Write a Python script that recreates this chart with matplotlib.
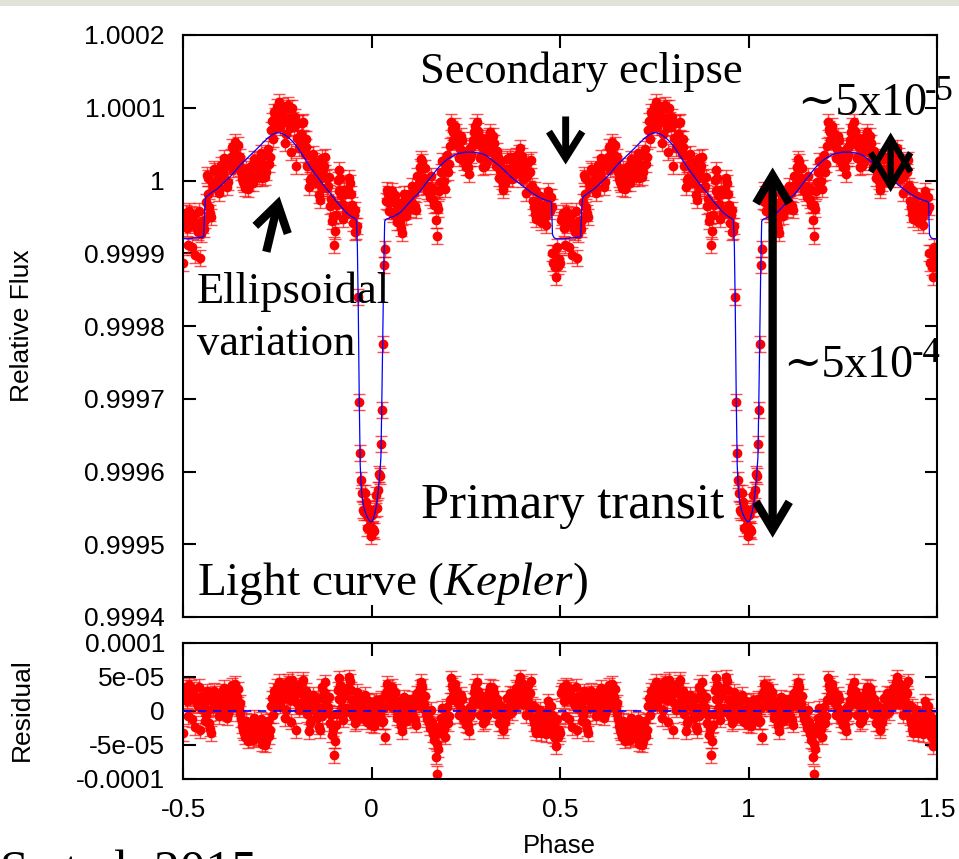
import numpy as np
import matplotlib
matplotlib.use("Agg")
import matplotlib.pyplot as plt
from matplotlib.patches import Rectangle

plt.rcParams['font.family'] = ['Liberation Sans', 'DejaVu Sans']
plt.rcParams['mathtext.fontset'] = 'custom'
plt.rcParams['mathtext.rm'] = 'Liberation Serif'
plt.rcParams['mathtext.it'] = 'Liberation Serif:italic'

# phase bins of one orbital cycle (the plot repeats them over two cycles);
# two interleaved sets of bins, offset by half a bin
phase_a = np.linspace(-0.5, 0.495, 200)
phase_b = phase_a + 0.0025

# best-fit model at the bins, offset from 1 in units of 1e-5
model_a_1e5 = [
    -8.0, -8.0, -8.0, -8.0, -7.95, -7.95, -7.9, -7.9, -7.85, -7.8,
    -7.8, -7.7, -2.3, -2.1, -1.9, -1.7, -1.5, -1.35, -1.2, -0.95,
    -0.7, -0.45, -0.2, 0.05, 0.25, 0.5, 0.8, 1.1, 1.4, 1.7,
    2.0, 2.3, 2.55, 2.8, 3.05, 3.3, 3.55, 3.8, 4.05, 4.3,
    4.55, 4.8, 5.1, 5.35, 5.6, 5.85, 6.05, 6.25, 6.4, 6.5,
    6.55, 6.55, 6.5, 6.4, 6.25, 6.1, 5.9, 5.65, 5.4, 5.1,
    4.8, 4.45, 4.05, 3.65, 3.25, 2.85, 2.45, 2.05, 1.65, 1.3,
    0.95, 0.6, 0.25, -0.1, -0.45, -0.8, -1.1, -1.4, -1.7, -2.05,
    -2.4, -2.75, -3.05, -3.35, -3.65, -3.95, -4.25, -4.5, -4.7, -4.9,
    -5.05, -5.2, -5.4, -18.0, -39.0, -43.5, -45.0, -45.8, -46.4, -46.8,
    -46.9, -46.5, -45.5, -44.0, -41.5, -38.0, -21.0, -5.6, -5.3, -5.2,
    -5.1, -5.0, -4.9, -4.75, -4.6, -4.45, -4.2, -3.95, -3.65, -3.35,
    -3.05, -2.75, -2.45, -2.2, -2.0, -1.7, -1.4, -1.05, -0.7, -0.35,
    0.0, 0.3, 0.6, 0.95, 1.3, 1.6, 1.9, 2.15, 2.4, 2.65,
    2.85, 3.05, 3.2, 3.35, 3.5, 3.6, 3.7, 3.75, 3.8, 3.85,
    3.9, 3.9, 3.9, 3.9, 3.9, 3.85, 3.8, 3.75, 3.7, 3.65,
    3.55, 3.4, 3.2, 3.0, 2.8, 2.6, 2.4, 2.2, 2.0, 1.75,
    1.5, 1.25, 1.0, 0.75, 0.5, 0.25, 0.05, -0.1, -0.3, -0.5,
    -0.7, -0.9, -1.1, -1.3, -1.5, -1.7, -1.85, -2.0, -2.15, -2.3,
    -2.45, -2.55, -2.65, -2.75, -2.8, -2.9, -7.4, -7.9, -8.0, -8.0,
]
model_b_1e5 = [
    -8.0, -8.0, -8.0, -7.95, -7.95, -7.9, -7.9, -7.9, -7.85, -7.8,
    -7.75, -4.0, -2.2, -2.0, -1.8, -1.6, -1.42, -1.28, -1.08, -0.82,
    -0.58, -0.32, -0.08, 0.15, 0.38, 0.65, 0.95, 1.25, 1.55, 1.85,
    2.15, 2.42, 2.68, 2.92, 3.18, 3.42, 3.68, 3.92, 4.18, 4.42,
    4.68, 4.95, 5.22, 5.48, 5.72, 5.95, 6.15, 6.32, 6.45, 6.53,
    6.56, 6.53, 6.45, 6.32, 6.18, 6.0, 5.78, 5.52, 5.25, 4.95,
    4.62, 4.25, 3.85, 3.45, 3.05, 2.65, 2.25, 1.85, 1.48, 1.12,
    0.78, 0.42, 0.08, -0.28, -0.62, -0.95, -1.25, -1.55, -1.88, -2.22,
    -2.58, -2.9, -3.2, -3.5, -3.8, -4.1, -4.38, -4.6, -4.8, -4.98,
    -5.12, -5.3, -9.0, -30.0, -42.0, -44.3, -45.4, -46.1, -46.6, -46.9,
    -46.8, -46.0, -44.8, -42.8, -40.0, -30.0, -12.0, -5.4, -5.25, -5.15,
    -5.05, -4.95, -4.82, -4.68, -4.52, -4.32, -4.08, -3.8, -3.5, -3.2,
    -2.9, -2.6, -2.32, -2.1, -1.85, -1.55, -1.22, -0.88, -0.52, -0.18,
    0.15, 0.45, 0.78, 1.12, 1.45, 1.75, 2.02, 2.28, 2.52, 2.75,
    2.95, 3.12, 3.28, 3.42, 3.55, 3.65, 3.72, 3.78, 3.82, 3.88,
    3.9, 3.9, 3.9, 3.9, 3.88, 3.82, 3.78, 3.72, 3.68, 3.6,
    3.48, 3.3, 3.1, 2.9, 2.7, 2.5, 2.3, 2.1, 1.88, 1.62,
    1.38, 1.12, 0.88, 0.62, 0.38, 0.15, -0.02, -0.2, -0.4, -0.6,
    -0.8, -1.0, -1.2, -1.4, -1.6, -1.78, -1.92, -2.08, -2.22, -2.38,
    -2.5, -2.6, -2.7, -2.78, -2.85, -3.0, -7.7, -7.95, -8.0, -8.0,
]

# data minus model, units of 1e-5
resid_a_1e5 = [
    -3.3, 3.0, 1.5, 3.8, 2.5, -1.2, 3.2, 2.0, 0.8, -2.8,
    2.2, 1.0, -0.6, 2.4, -1.8, -3.3, 0.5, 2.6, 1.2, -0.8,
    2.8, 1.8, 0.6, 2.2, -0.4, 1.5, 3.8, 3.0, 1.0, 3.2,
    1.2, -1.2, -2.8, -3.8, -2.2, -3.6, -1.6, -4.2, -2.6, -1.8,
    -3.2, -2.0, -4.8, -3.4, -4.4, -1.5, -2.8, 1.9, 0.6, 2.4,
    3.6, 4.3, 1.4, 3.3, -1.1, 2.0, 4.0, 1.6, 4.6, 2.2,
    -2.8, 3.4, 1.0, 4.2, 2.4, 1.8, -0.5, -3.0, -1.3, 2.4,
    0.8, -1.0, -2.3, 0.4, 3.6, 2.8, 1.4, 0.6, -1.8, -3.5,
    -6.5, -2.0, 3.1, 4.8, 1.6, -1.3, 2.4, 0.5, 5.0, 3.1,
    -0.8, 1.1, -1.5, 2.0, 1.5, 0.5, -0.6, 1.6, 0.2, -0.5,
    -1.2, -1.4, 0.3, -1.0, 1.2, 1.8, -1.5, -3.8, 4.0, 2.2,
    3.1, 3.6, 1.9, 0.6, -0.3, -1.3, -3.0, 1.2, -0.6, 1.0,
    1.2, -0.2, -0.8, -1.3, 2.6, 1.4, 4.3, 3.6, 1.1, -0.4,
    -0.8, -2.5, -1.6, -4.3, -6.7, -9.2, -3.3, -1.0, -1.3, -3.8,
    0.6, -0.8, 4.8, 3.3, 2.1, 3.1, 1.2, 0.6, 1.8, -1.3,
    -2.0, -2.1, -0.8, -0.4, 1.6, 3.6, 4.3, 1.2, 1.0, -1.8,
    -1.5, 2.1, 1.4, 3.6, 2.4, 2.6, -0.4, 1.0, -0.6, -1.8,
    -2.8, -1.6, 1.9, 0.2, 1.2, 2.4, 0.8, 3.1, 2.0, 5.0,
    4.1, 1.6, -0.6, 3.8, 2.6, 0.9, -1.8, -2.6, -0.9, -1.4,
    -3.3, -2.0, -2.3, -0.4, 0.6, 0.7, -2.5, -2.0, -5.2, -3.8,
]
resid_b_1e5 = [
    2.6, 3.5, -0.8, 1.8, 3.4, 2.2, -2.4, 1.2, 3.6, 0.4,
    1.6, -1.4, 2.9, 0.2, -2.6, 1.4, 3.0, 0.8, 2.0, -0.2,
    1.0, 3.4, 2.4, -1.0, 1.8, 2.6, 0.6, 4.0, 2.0, 0.4,
    -0.4, -2.2, -3.2, -1.4, -4.4, -2.8, -3.0, -1.0, -3.9, -2.3,
    -4.0, -1.2, -3.0, -5.0, -2.2, -3.7, 0.8, -0.6, 3.0, 1.4,
    2.8, 0.8, 3.8, 2.4, 0.2, 4.4, 2.8, -1.6, 3.0, 3.8,
    1.2, 0.2, 2.6, 4.6, 0.6, 3.0, 1.2, -1.8, 0.8, 1.6,
    -0.2, 1.8, -2.8, -0.8, 2.0, 4.2, 0.2, 2.0, -0.6, -2.6,
    -4.4, -0.4, 1.8, 3.8, 0.6, 2.8, -0.2, 3.4, 4.4, 1.6,
    0.4, -1.8, 2.8, -0.4, 0.8, -1.0, 2.4, -1.6, 1.4, -2.0,
    0.8, -2.2, 1.6, 0.2, -0.6, -1.6, 0.4, 2.6, 3.4, 1.0,
    2.2, 0.4, 2.8, -1.0, 1.4, -2.2, 0.2, 2.0, -1.4, 0.4,
    -1.0, 1.8, 0.6, -2.0, 1.0, 3.4, 2.8, 0.4, 2.2, -1.2,
    -1.8, 0.2, -3.4, -2.4, -4.8, -5.6, -2.2, 0.4, -2.6, -0.6,
    -1.8, 1.6, 3.8, 2.2, 4.0, 1.8, -0.6, 2.4, 0.2, -0.8,
    -1.2, -3.0, 0.6, 0.8, 2.8, 2.0, 3.0, -0.6, 2.2, 0.2,
    0.6, -0.8, 3.0, 1.0, 3.4, 0.4, 1.8, -1.8, 0.8, -2.4,
    -1.0, 0.4, -0.6, 2.6, -0.2, 1.6, 3.4, 1.4, 4.2, 2.8,
    1.0, 3.0, 1.8, 0.2, 4.4, -1.0, 0.6, -3.2, -1.8, 0.2,
    -2.4, -0.8, -3.4, 1.4, -1.4, -0.6, -3.6, -4.0, -1.2, -2.8,
]

flux_err = 1.1e-5

xticks = [-0.5, 0, 0.5, 1, 1.5]
xticklabels = ["-0.5", "0", "0.5", "1", "1.5"]
flux_ticks = [0.9994, 0.9995, 0.9996, 0.9997, 0.9998, 0.9999, 1.0, 1.0001, 1.0002]
flux_ticklabels = ["0.9994", "0.9995", "0.9996", "0.9997", "0.9998", "0.9999", "1", "1.0001", "1.0002"]
res_ticks = [-1e-4, -5e-5, 0, 5e-5, 1e-4]
res_ticklabels = ["-0.0001", "-5e-05", "0", "5e-05", "0.0001"]

# merge the two bin sets in phase order
phase = np.concatenate([phase_a, phase_b])
model = 1.0 + np.concatenate([model_a_1e5, model_b_1e5]) * 1e-5
resid = np.concatenate([resid_a_1e5, resid_b_1e5]) * 1e-5
order = np.argsort(phase)
phase, model, resid = phase[order], model[order], resid[order]
flux = model + resid

# repeat over two cycles
x_all = np.concatenate([phase, phase + 1])
flux_all = np.concatenate([flux, flux])
resid_all = np.concatenate([resid, resid])
x_line = np.concatenate([phase, phase + 1, phase[:1] + 2])
model_line = np.concatenate([model, model, model[:1]])

W, H = 959, 859
fig = plt.figure(figsize=(W / 100, H / 100), dpi=100)

def fx(px):
    return px / W

def fy(py):
    return 1 - py / H

ax1 = fig.add_axes([fx(183), fy(617), fx(937) - fx(183), fy(35) - fy(617)])
ax2 = fig.add_axes([fx(183), fy(779), fx(937) - fx(183), fy(643) - fy(779)])

ebar = dict(fmt='o', ms=6, color='red', ecolor=(1, 0, 0, 0.7),
            elinewidth=1.0, capsize=4, capthick=1.0, zorder=2)
ax1.errorbar(x_all, flux_all, yerr=flux_err, **ebar)
ax1.plot(x_line, model_line, color='blue', lw=0.9, zorder=3)

ax2.errorbar(x_all, resid_all, yerr=flux_err, **ebar)
ax2.axhline(0, color='blue', lw=1.2, ls=(0, (5, 4)), zorder=3)

for ax in (ax1, ax2):
    ax.set_xlim(-0.5, 1.5)
    ax.set_xticks(xticks)
    ax.tick_params(direction='in', length=9, width=1.5, top=True, right=True,
                   labelsize=19, pad=13)
    for s in ax.spines.values():
        s.set_linewidth(1.5)

ax1.set_ylim(0.9994, 1.0002)
ax1.set_yticks(flux_ticks)
ax1.set_yticklabels(flux_ticklabels)
ax1.set_xticklabels([])

ax2.set_ylim(-1e-4, 1e-4)
ax2.set_yticks(res_ticks)
ax2.set_yticklabels(res_ticklabels)
ax2.set_xticklabels(xticklabels)
ax2.tick_params(axis='x', pad=14)

fig.text(fx(22), fy(326), "Relative Flux", rotation=90, ha='center', va='center', fontsize=19)
fig.text(fx(22), fy(710), "Residual", rotation=90, ha='center', va='center', fontsize=19)
fig.text(fx(559), fy(846), "Phase", ha='center', va='center', fontsize=18.5)

serif = dict(family=['Liberation Serif', 'DejaVu Serif'], ha='left', va='baseline', color='black')
fig.text(fx(420), fy(83), "Secondary eclipse", fontsize=32, **serif)
fig.text(fx(197), fy(303), "Ellipsoidal", fontsize=32, **serif)
fig.text(fx(197), fy(355), "variation", fontsize=32, **serif)
fig.text(fx(421), fy(518), "Primary transit", fontsize=36.5, **serif)
fig.text(fx(197), fy(595), r"Light curve ($\mathit{Kepler}$)", fontsize=34, **serif)
fig.text(fx(797), fy(115), "\u223c5x10", fontsize=33, **serif)
fig.text(fx(925), fy(100), "-5", fontsize=25, **serif)
fig.text(fx(783), fy(377), "\u223c5x10", fontsize=33, **serif)
fig.text(fx(912), fy(362), "-4", fontsize=25, **serif)
fig.text(fx(0), fy(885), "S et al. 2015", fontsize=37, **serif)

# annotation arrows
def arrow(tail, tip, style, lw, scale=20):
    ax1.annotate('', xy=tip, xytext=tail, xycoords='data',
                 arrowprops=dict(arrowstyle=style, lw=lw, color='black',
                                 mutation_scale=scale, shrinkA=0, shrinkB=0,
                                 joinstyle='miter', capstyle='butt'),
                 annotation_clip=False)

arrow((-0.279, 0.999902), (-0.244, 0.999978), '->,head_length=0.95,head_width=0.6', 6.0)
arrow((0.515, 1.000088), (0.515, 1.000022), '->,head_length=0.95,head_width=0.6', 5.0)
arrow((1.064, 1.0000179), (1.064, 0.999509), '<->,head_length=1.0,head_width=0.6', 6.0)
arrow((1.377, 1.000066), (1.377, 0.999984), '<->,head_length=1.2,head_width=0.72', 4.5)

fig.patches.append(Rectangle((0, fy(6)), 1, 1 - fy(6), transform=fig.transFigure,
                             facecolor='#e2e2da', edgecolor='none', zorder=0))

fig.savefig("out.png", dpi=100)
